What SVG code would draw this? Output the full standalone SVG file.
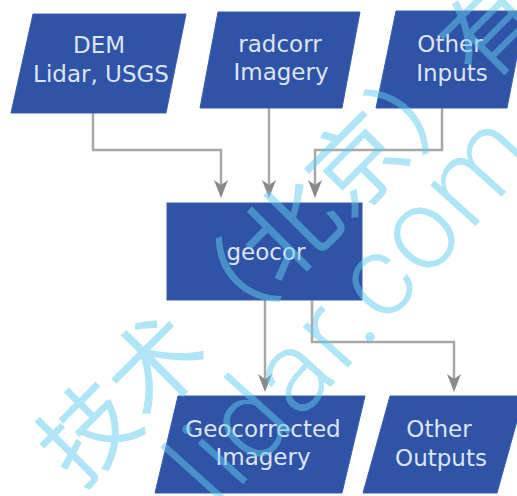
<svg xmlns="http://www.w3.org/2000/svg" width="517" height="496" viewBox="0 0 517 496">
  <style>
    .node { fill: #2f53a6; stroke: #3a5db0; stroke-width: 1; }
    .label { font-family: "DejaVu Sans", Verdana, sans-serif; font-size: 23px; fill: #dde4f4; text-anchor: middle; }
    .link { fill: none; stroke: #a8a8a8; stroke-width: 2.5; }
    .wm { fill: #64cdf0; opacity: 0.5; }
  </style>
  <defs>
    <marker id="arrow" markerUnits="userSpaceOnUse" orient="auto" refX="0" refY="0" markerWidth="30" markerHeight="30" viewBox="-15 -15 30 30" overflow="visible">
      <path d="M4,0 L-14,-7 L-9,0 L-14,7 Z" fill="#8a8a8a"/>
    </marker>
  </defs>
  <rect width="517" height="496" fill="#ffffff"/>

  <!-- connectors -->
  <g id="connectors">
    <path class="link" d="M93,113 V150 H221 V194" marker-end="url(#arrow)"/>
    <path class="link" d="M269,108 V194" marker-end="url(#arrow)"/>
    <path class="link" d="M442,108 V150 H315 V194" marker-end="url(#arrow)"/>
    <path class="link" d="M265,300 V388" marker-end="url(#arrow)"/>
    <path class="link" d="M312,300 V342 H454 V388" marker-end="url(#arrow)"/>
  </g>

  <!-- input data -->
  <g id="dem">
    <polygon class="node" points="33,14 186,14 166,113 11,113"/>
    <text class="label" x="99" y="53">DEM</text>
    <text class="label" x="101" y="82">Lidar, USGS</text>
  </g>
  <g id="radcorr">
    <polygon class="node" points="218,12 360,12 342,108 200,108"/>
    <text class="label" x="280" y="52">radcorr</text>
    <text class="label" x="281" y="80">Imagery</text>
  </g>
  <g id="other-inputs">
    <polygon class="node" points="396,11 526,11 507,108 376,108"/>
    <text class="label" x="450" y="52">Other</text>
    <text class="label" x="452" y="81">Inputs</text>
  </g>

  <!-- process -->
  <g id="geocor">
    <rect class="node" x="167" y="203" width="195" height="97"/>
    <text class="label" x="266" y="260">geocor</text>
  </g>

  <!-- outputs -->
  <g id="geocorrected">
    <polygon class="node" points="178,396 365,396 342,493 155,493"/>
    <text class="label" x="263" y="437">Geocorrected</text>
    <text class="label" x="263" y="465">Imagery</text>
  </g>
  <g id="other-outputs">
    <polygon class="node" points="390,396 524,396 497,493 363,493"/>
    <text class="label" x="439" y="437">Other</text>
    <text class="label" x="441" y="466">Outputs</text>
  </g>

  <!-- watermark -->
  <g id="watermark" class="wm">
    <text transform="translate(79,490) rotate(-45)" font-family="'Noto Sans CJK SC', sans-serif" font-size="95">技术（北京）有</text>
    <text transform="translate(218,512) rotate(-48)" font-family="Roboto, 'Open Sans', sans-serif" font-weight="300" font-size="115" letter-spacing="2">lidar.com</text>
  </g>
</svg>
